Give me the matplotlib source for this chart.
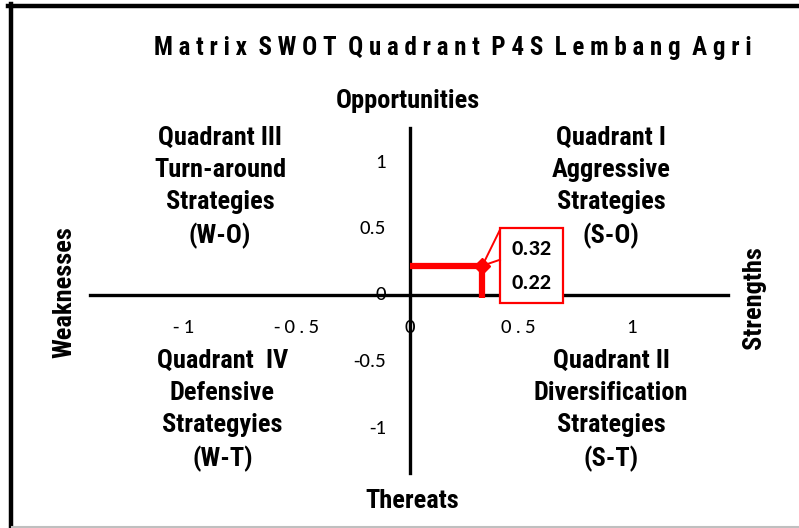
import matplotlib.pyplot as plt
from matplotlib.lines import Line2D
from matplotlib.patches import Rectangle

# ---- data ----
title = "Matrix SWOT Quadrant P4S Lembang Agri"
x_ticks = [-1, -0.5, 0, 0.5, 1]
y_ticks = [1, 0.5, 0, -0.5, -1]
x_labels = ["-1", "-0.5", "0", "0.5", "1"]
y_labels = ["1", "0.5", "0", "-0.5", "-1"]
point_x = 0.32   # strengths - weaknesses
point_y = 0.22   # opportunities - threats
quadrants = [
    ("Quadrant III\nTurn-around\nStrategies\n(W-O)", -0.84, 0.81),
    ("Quadrant I\nAggressive\nStrategies\n(S-O)", 0.89, 0.81),
    ("Quadrant  IV\nDefensive\nStrategyies\n(W-T)", -0.83, -0.87),
    ("Quadrant II\nDiversification\nStrategies\n(S-T)", 0.89, -0.87),
]

narrow = ['Roboto Condensed', 'DejaVu Sans']
tickfont = ['Carlito', 'DejaVu Sans']

fig = plt.figure(figsize=(7.99, 5.28), dpi=100)
ax = fig.add_axes([0, 0, 1, 1])
# pixel mapping: x=0 at 410px, 226px/unit ; y=0 at 295px from top, 133px/unit
ax.set_xlim((0 - 410) / 226, (799 - 410) / 226)
ax.set_ylim((295 - 528) / 133, (295 - 0) / 133)
ax.axis('off')

# frame of the chart area
fig.add_artist(Line2D([10.5 / 799, 10.5 / 799], [0, 1 - 4 / 528], color='black', lw=3.2))
fig.add_artist(Line2D([8 / 799, 1], [1 - 5.5 / 528, 1 - 5.5 / 528], color='black', lw=3.2))
fig.add_artist(Line2D([12 / 799, 1], [1.5 / 528, 1.5 / 528], color='#bfbfbf', lw=1.5))

# axes cross
ax.plot([-1.416, 1.407], [0, 0], color='black', lw=2.4, zorder=2)
ax.plot([0, 0], [-1.338, 1.256], color='black', lw=2.4, zorder=2)

# tick labels
for v, lab in zip(x_ticks, x_labels):
    ax.text(v - 0.02 * (v > 0), -0.245, '\u2009'.join(lab), ha='center', va='center',
            fontsize=15, family=tickfont, zorder=1)
for v, lab in zip(y_ticks, y_labels):
    ax.text(-0.105, v, lab, ha='right', va='center',
            fontsize=15, family=tickfont, zorder=1)

# quadrant descriptions
for txt, qx, qy in quadrants:
    ax.text(qx, qy, txt, ha='center', va='center', fontsize=19,
            fontweight='bold', family=narrow, linespacing=1.42)

ax.text(-0.01, 1.46, "Opportunities", ha='center', va='center', fontsize=19,
        fontweight='bold', family=narrow)
ax.text(0.01, -1.55, "Thereats", ha='center', va='center', fontsize=19,
        fontweight='bold', family=narrow)
ax.text(-1.53, 0.02, "Weaknesses", ha='center', va='center', fontsize=19,
        fontweight='bold', family=narrow, rotation=90)
ax.text(1.52, -0.02, "Strengths", ha='center', va='center', fontsize=19,
        fontweight='bold', family=narrow, rotation=90)

# title with letter spacing
fig.text(453 / 799, 1 - 48 / 528, '  '.join(' '.join(w) for w in title.split(' ')),
         ha='center', va='center', fontsize=18, fontweight='bold',
         family=narrow)

# the position of the company
ax.plot([0, point_x], [point_y, point_y], color='red', lw=4.5, zorder=3,
        solid_capstyle='butt')
ax.plot([point_x, point_x], [-0.02, point_y], color='red', lw=4.5, zorder=3,
        solid_capstyle='butt')
ax.plot(point_x, point_y, marker='D', color='red', markersize=8, zorder=4)

# callout box
bx0, bx1, by0, by1 = 0.398, 0.677, -0.06, 0.504
ax.add_patch(Rectangle((bx0, by0), bx1 - bx0, by1 - by0, facecolor='white',
                       edgecolor='red', lw=1.6, zorder=5))
ax.plot([bx0, point_x], [0.49, point_y], color='red', lw=1.4, zorder=5)
ax.plot([bx0, point_x], [0.265, point_y], color='red', lw=1.4, zorder=5)
ax.text((bx0 + bx1) / 2, 0.346, f"{point_x:.2f}", ha='center', va='center',
        fontsize=16, fontweight='bold', family=tickfont, zorder=6)
ax.text((bx0 + bx1) / 2, 0.09, f"{point_y:.2f}", ha='center', va='center',
        fontsize=16, fontweight='bold', family=tickfont, zorder=6)

fig.savefig('out.png', dpi=100)
